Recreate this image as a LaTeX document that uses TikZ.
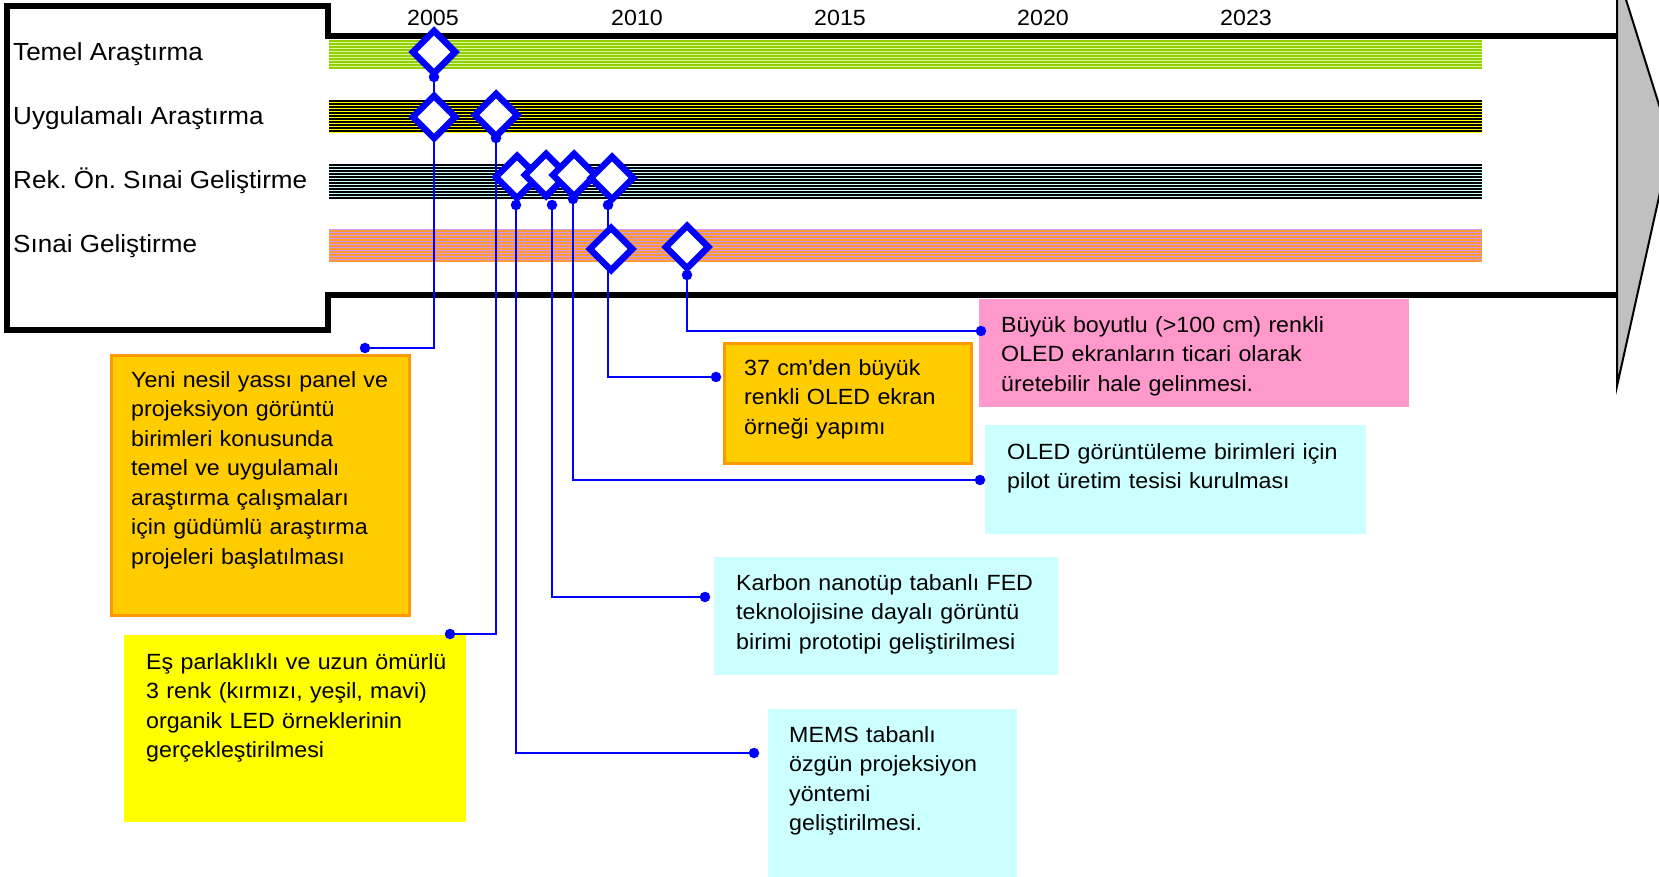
\documentclass[tikz,border=0pt]{standalone}
\usepackage{fontspec}
\setmainfont{Liberation Sans}[FakeStretch=1.055]
\usetikzlibrary{shapes.geometric}

\definecolor{msblue}{HTML}{0000FF}
\definecolor{boxorange}{HTML}{FFCC00}
\definecolor{boxorangeline}{HTML}{FF9900}
\definecolor{boxyellow}{HTML}{FFFF00}
\definecolor{boxpink}{HTML}{FF99CC}
\definecolor{boxcyan}{HTML}{CCFFFF}
\definecolor{headgray}{HTML}{C0C0C0}
\definecolor{greenbg}{HTML}{CCFF99}
\definecolor{greenfg}{HTML}{99CC00}
\definecolor{orangebg}{HTML}{FF9933}
\definecolor{violetfg}{HTML}{CC99FF}

% striped band: #1 top, #2 bottom, #3 background, #4 stripe colour,
% #5 last stripe index, #6 stripe width
\newcommand\stripeband[6]{%
  \fill[#3] (329,#1) rectangle (1482,#2);
  \foreach \k in {0,...,#5}{%
    \draw[#4, line width=#6] (329,{#1+0.8+3*\k}) -- (1482,{#1+0.8+3*\k});
  }%
}

\tikzset{
  rowlabel/.style={anchor=base west, inner sep=0pt, font=\fontsize{24.7}{30}\selectfont},
  yearlabel/.style={anchor=base, inner sep=0pt, font=\fontsize{22}{26}\selectfont},
  milestone/.style={diamond, draw=msblue, fill=white, line width=6.5pt,
    minimum width=45pt, minimum height=45pt, inner sep=0pt},
  dotmark/.style={circle, fill=msblue, inner sep=0pt, minimum size=10.5pt},
  link/.style={draw=msblue, line width=2.4pt},
  boxbase/.style={rectangle, anchor=north west, inner sep=0pt},
  obox/.style={boxbase, fill=boxorange, draw=boxorangeline, line width=2.5pt},
  ybox/.style={boxbase, fill=boxyellow},
  pbox/.style={boxbase, fill=boxpink},
  cbox/.style={boxbase, fill=boxcyan},
  boxtext/.style={anchor=base west, inner sep=0pt, text width=420pt, align=left,
    font=\fontsize{22}{29.5}\selectfont},
}

\begin{document}
\frenchspacing
\begin{tikzpicture}[x=1pt, y=-1pt, line join=miter]
\useasboundingbox (0,0) rectangle (1659,877);
\clip (0,0) rectangle (1659,877);

% phase bands
\stripeband{40}{69}{greenbg}{greenfg}{9}{1.5pt}
\stripeband{100}{133}{boxyellow}{black}{10}{1.6pt}
\stripeband{164}{198}{boxcyan}{black}{11}{1.7pt}
\stripeband{229}{262}{orangebg}{violetfg}{10}{1.1pt}

% arrow body and label panel
\draw[line width=6pt] (1617,36) -- (328,36) -- (328,6) -- (7,6) -- (7,330)
  -- (328,330) -- (328,295) -- (1617,295);
% arrow head
\filldraw[fill=headgray, draw=black, line width=2pt]
  (1617,-29) -- (1671,143) -- (1617,386) -- cycle;

% row labels
\node[rowlabel] (lTemel) at (13,61) {Temel Araştırma};
\node[rowlabel] (lUyg) at (13,124.5) {Uygulamalı Araştırma};
\node[rowlabel] (lRek) at (13,189) {Rek. Ön. Sınai Geliştirme};
\node[rowlabel] (lSinai) at (13,253) {Sınai Geliştirme};

% years
\node[yearlabel] (y2005) at (433,26) {2005};
\node[yearlabel] (y2010) at (637,26) {2010};
\node[yearlabel] (y2015) at (840,26) {2015};
\node[yearlabel] (y2020) at (1043,26) {2020};
\node[yearlabel] (y2023) at (1246,26) {2023};

% description boxes
\node[obox, minimum width=298pt, minimum height=260pt] (bYeni) at (110,354) {};
\node[ybox, minimum width=342pt, minimum height=187pt] (bEs) at (124,635) {};
\node[obox, minimum width=247pt, minimum height=120pt] (bCm) at (723,342) {};
\node[pbox, minimum width=430pt, minimum height=108pt] (bBuyuk) at (979,299) {};
\node[cbox, minimum width=381pt, minimum height=109pt] (bOled) at (985,425) {};
\node[cbox, minimum width=344pt, minimum height=118pt] (bKarbon) at (714,557) {};
\node[cbox, minimum width=249pt, minimum height=168pt] (bMems) at (768,709) {};

\node[boxtext] (tYeni) at (131,387) {Yeni nesil yassı panel ve\\projeksiyon görüntü\\birimleri konusunda\\temel ve uygulamalı\\araştırma çalışmaları\\için güdümlü araştırma\\projeleri başlatılması};
\node[boxtext] (tEs) at (146,669) {Eş parlaklıklı ve uzun ömürlü\\3 renk (kırmızı, yeşil, mavi)\\organik LED örneklerinin\\gerçekleştirilmesi};
\node[boxtext] (tCm) at (744,375) {37 cm\textquotesingle den büyük\\renkli OLED ekran\\örneği yapımı};
\node[boxtext] (tBuyuk) at (1001,332) {Büyük boyutlu (>100 cm) renkli\\OLED ekranların ticari olarak\\üretebilir hale gelinmesi.};
\node[boxtext] (tOled) at (1007,459) {OLED görüntüleme birimleri için\\pilot üretim tesisi kurulması};
\node[boxtext] (tKarbon) at (736,590) {Karbon nanotüp tabanlı FED\\teknolojisine dayalı görüntü\\birimi prototipi geliştirilmesi};
\node[boxtext] (tMems) at (789,742) {MEMS tabanlı\\özgün projeksiyon\\yöntemi\\geliştirilmesi.};

% connector end points
\coordinate (cT1) at (434,77);
\coordinate (cU2) at (496,138);
\coordinate (cR1) at (516,205);
\coordinate (cR2) at (552,205);
\coordinate (cR3) at (573,199);
\coordinate (cR4) at (608,205);
\coordinate (cS2) at (687,275);
\coordinate (cYeni) at (365,348);
\coordinate (cEs) at (450,634);
\coordinate (cCm) at (716,377);
\coordinate (cBuyuk) at (981,331);
\coordinate (cOled) at (980,480);
\coordinate (cKarbon) at (705,597);
\coordinate (cMems) at (754,753);

% connectors
\draw[link] (cT1) |- (cYeni);
\draw[link] (cU2) |- (cEs);
\draw[link] (cR1) |- (cMems);
\draw[link] (cR2) |- (cKarbon);
\draw[link] (cR3) |- (cOled);
\draw[link] (cR4) |- (cCm);
\draw[link] (cS2) |- (cBuyuk);

% milestones
\node[milestone] (mT1) at (434,52) {};
\node[milestone] (mU1) at (434,117) {};
\node[milestone] (mU2) at (496,115) {};
\node[milestone] (mR1) at (517,177) {};
\node[milestone] (mR2) at (546,175) {};
\node[milestone] (mR3) at (574,175) {};
\node[milestone] (mR4) at (612,178) {};
\node[milestone] (mS1) at (611,249) {};
\node[milestone] (mS2) at (687,247) {};

% connector dots
\foreach \c in {cT1,cU2,cR1,cR2,cR3,cR4,cS2,cYeni,cEs,cCm,cBuyuk,cOled,cKarbon,cMems}
  \node[dotmark] at (\c) {};
\end{tikzpicture}
\end{document}
